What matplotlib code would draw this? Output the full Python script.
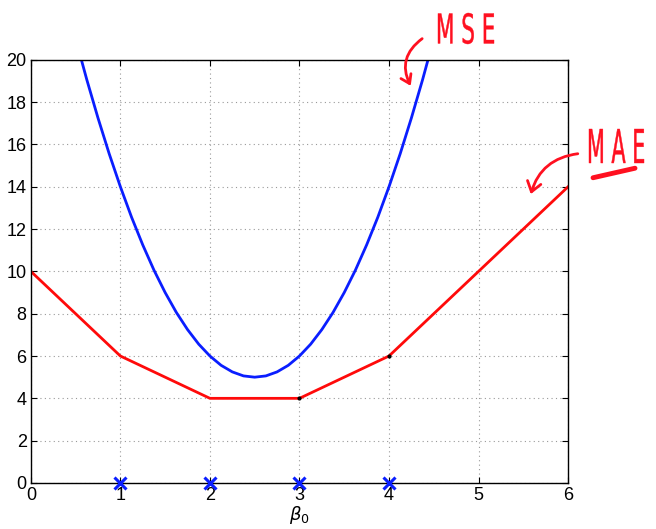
import numpy as np
import matplotlib
matplotlib.use('Agg')
import matplotlib.pyplot as plt
from matplotlib.textpath import TextPath
from matplotlib.patches import PathPatch, FancyArrowPatch
from matplotlib.font_manager import FontProperties
from matplotlib.transforms import Affine2D, IdentityTransform

plt.rcParams['font.family'] = ['Liberation Sans', 'DejaVu Sans']

# observations on the beta_0 axis
obs_x = [1, 2, 3, 4]

# MAE curve (piecewise linear)
mae_b = [0, 1, 2, 3, 4, 6]
mae_y = [10, 6, 4, 4, 6, 14]

# MSE curve, every 0.125
mse_b = [0.5, 0.625, 0.75, 0.875, 1.0, 1.125, 1.25, 1.375, 1.5, 1.625, 1.75,
         1.875, 2.0, 2.125, 2.25, 2.375, 2.5, 2.625, 2.75, 2.875, 3.0, 3.125,
         3.25, 3.375, 3.5, 3.625, 3.75, 3.875, 4.0, 4.125, 4.25, 4.375, 4.5]
mse_y = [21.0, 19.06, 17.25, 15.56, 14.0, 12.56, 11.25, 10.06, 9.0, 8.06, 7.25,
         6.56, 6.0, 5.56, 5.25, 5.06, 5.0, 5.06, 5.25, 5.56, 6.0, 6.56,
         7.25, 8.06, 9.0, 10.06, 11.25, 12.56, 14.0, 15.56, 17.25, 19.06, 21.0]

dots_x = [3, 4]
dots_y = [4, 6]

fig = plt.figure(figsize=(6.56, 5.29), dpi=100)
ax = fig.add_axes([0.047, 0.087, 0.819, 0.8])

ax.plot(mse_b, mse_y, color='#0a1eff', lw=2, solid_joinstyle='round')
ax.plot(mae_b, mae_y, color='#ff0a0a', lw=2)
ax.plot(dots_x, dots_y, 'k.', ms=4)
ax.plot(obs_x, [0] * len(obs_x), 'x', color='#0a1eff', ms=9, mew=2.2,
        clip_on=False, zorder=5)

ax.set_xlim(0, 6)
ax.set_ylim(0, 20)
ax.set_xticks(range(0, 7))
ax.set_yticks(range(0, 21, 2))
ax.grid(True, ls=(0, (1, 3)), color='#999999', lw=0.8)
ax.tick_params(direction='in', top=True, right=True, length=4, labelsize=13,
               pad=3)
for s in ax.spines.values():
    s.set_linewidth(1.0)
ax.set_xlabel(r'$\beta_0$', fontsize=13, labelpad=0)

# hand-drawn annotations
red = '#ff1020'
H = 529  # figure height in px


def hand_text(s, left, top, width, height):
    """squeeze a text into a pixel box, tall and narrow like handwriting"""
    tp = TextPath((0, 0), s, size=20, prop=FontProperties(family='DejaVu Sans'))
    bb = tp.get_extents()
    tr = (Affine2D().translate(-bb.x0, -bb.y0)
          .scale(width / bb.width, height / bb.height)
          .translate(left, H - top - height))
    path = tr.transform_path(tp)
    fig.add_artist(PathPatch(path, facecolor=red, edgecolor=red, lw=0.3,
                             transform=IdentityTransform()))


hand_text('M S E', 438, 13, 56, 31)
hand_text('M A E', 589, 129, 55, 34)
fig.add_artist(plt.Line2D([0.904, 0.968], [0.664, 0.682], color=red, lw=3.5,
                          transform=fig.transFigure, solid_capstyle='round'))
fig.add_artist(FancyArrowPatch(
    (0.647, 0.93), (0.628, 0.833), transform=fig.transFigure,
    connectionstyle='arc3,rad=0.45', arrowstyle='->,head_length=6,head_width=4',
    color=red, lw=2))
fig.add_artist(FancyArrowPatch(
    (0.885, 0.71), (0.808, 0.628), transform=fig.transFigure,
    connectionstyle='arc3,rad=0.35', arrowstyle='->,head_length=7,head_width=5',
    color=red, lw=2))

plt.savefig('out.png', dpi=100)
